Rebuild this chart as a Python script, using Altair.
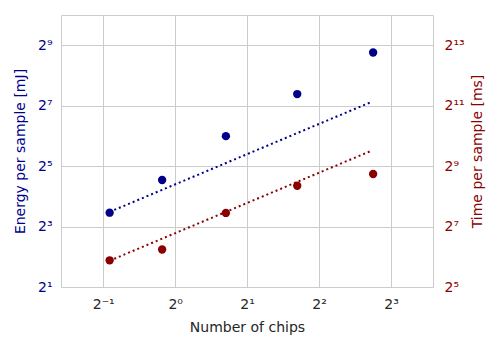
import altair as alt
import pandas as pd

chips = [0.532, 0.882, 1.63, 3.24, 6.73]
energy = [11.0, 23.3, 63.6, 167, 433]
time_ms = [59, 75.6, 175, 326, 427]

fit_chips = [0.532, 6.6]
energy_fit = [11.2, 139]
time_fit = [58.5, 726]

BLUE = "#00008b"
RED = "#8b0000"

df = pd.DataFrame({"chips": chips, "energy": energy, "time": time_ms})
fit = pd.DataFrame({"chips": fit_chips, "energy": energy_fit, "time": time_fit})

S = "['⁰','¹','²','³','⁴','⁵','⁶','⁷','⁸','⁹']"
E = "round(log(datum.value)/LN2)"
label_expr = (f"'2' + ({E} < 0 ? '⁻' : '') + (abs({E}) >= 10 ? {S}[floor(abs({E})/10)] : '') "
              f"+ {S}[abs({E}) % 10]")

xscale = alt.Scale(type="log", base=2, domain=[0.333, 11.98], nice=False, zero=False)
yl_scale = alt.Scale(type="log", base=2, domain=[2, 1024], nice=False, zero=False)
yr_scale = alt.Scale(type="log", base=2, domain=[32, 16384], nice=False, zero=False)

xaxis = alt.Axis(values=[0.5, 1, 2, 4, 8], labelExpr=label_expr, title="Number of chips",
                 grid=True, labelColor="#262626", titleColor="#262626", labelPadding=10,
                 titlePadding=9)
x_enc = alt.X("chips:Q", scale=xscale, axis=xaxis)

left_axis = alt.Axis(values=[2, 8, 32, 128, 512], labelExpr=label_expr, orient="left",
                     title="Energy per sample [mJ]", grid=True, labelColor=BLUE, titleColor=BLUE,
                     labelPadding=9, titlePadding=10)
right_axis = alt.Axis(values=[32, 128, 512, 2048, 8192], labelExpr=label_expr, orient="right",
                      title="Time per sample [ms]", grid=False, labelColor=RED, titleColor=RED,
                      labelPadding=11, titlePadding=6, titleAngle=270, titleBaseline="top")

yl = alt.Y("energy:Q", scale=yl_scale, axis=left_axis)
yr = alt.Y("time:Q", scale=yr_scale, axis=right_axis)

blue_line = alt.Chart(fit).mark_line(color=BLUE, strokeDash=[2, 3], strokeWidth=2).encode(x=x_enc, y=yl)
blue_pts = alt.Chart(df).mark_circle(color=BLUE, size=70, opacity=1).encode(x=x_enc, y=yl)
red_line = alt.Chart(fit).mark_line(color=RED, strokeDash=[2, 3], strokeWidth=2).encode(x=x_enc, y=yr)
red_pts = alt.Chart(df).mark_circle(color=RED, size=70, opacity=1).encode(x=x_enc, y=yr)

left = alt.layer(blue_line, blue_pts)
right = alt.layer(red_line, red_pts)

chart = alt.layer(left, right).resolve_scale(y="independent").properties(
    width=372, height=272,
    autosize=alt.AutoSizeParams(type="none"),
    padding={"left": 53, "top": 7, "right": 59, "bottom": 55},
).configure_axis(
    labelFont="DejaVu Sans", titleFont="DejaVu Sans", labelFontSize=14, titleFontSize=14,
    titleFontWeight="normal", domain=False, ticks=False, gridColor="#cccccc", gridWidth=1,
).configure_view(stroke="#cccccc", strokeWidth=1)

chart.save("out.html", embed_options={"renderer": "svg", "actions": False})
